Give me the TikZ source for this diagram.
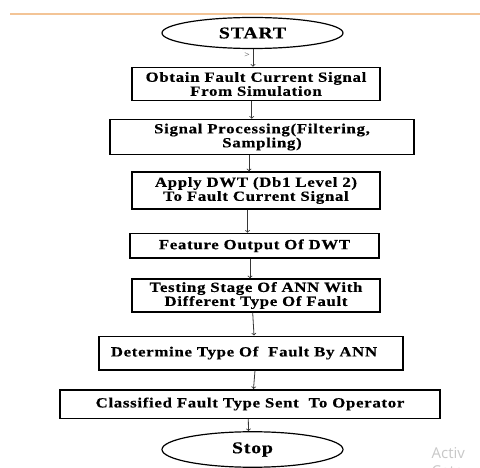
\documentclass[tikz,border=0pt]{standalone}
\usepackage{fontspec}
\setmainfont{Liberation Serif}[LetterSpace=5.0, FakeStretch=1.2,
  BoldFeatures={FakeBold=0.4}]
\newfontfamily\wmfont{Open Sans}
\usepackage{tikz}
\usetikzlibrary{
  shapes.geometric,%
  calc%
}
\definecolor{rulecolor}{RGB}{243,196,150}
\definecolor{linkgray}{RGB}{55,55,55}
\definecolor{wmgray}{RGB}{200,200,200}
\newcommand{\boxfont}{\bfseries\fontsize{14}{14}\selectfont}
\newcommand{\termfont}{\bfseries\fontsize{16.5}{17}\selectfont}
\tikzset{>=to}
\tikzset{
  stepbox/.style={rectangle, draw=black, line width=1.5pt, inner sep=0pt,
    align=center, font=\boxfont},
  terminal/.style={ellipse, draw=black, line width=1.2pt, inner sep=0pt,
    minimum width=181pt, font=\termfont},
  flow/.style={->, draw=linkgray, line width=0.8pt}
}

\begin{document}
\begin{tikzpicture}[x=1pt, y=-1pt]
  \useasboundingbox (0,0) rectangle (480,468); %
  \fill[white] (0,0) rectangle (480,468); %
  \draw[rulecolor, line width=2pt] (10,14) -- (480,14); %
  % terminals and steps
  \node[terminal, minimum height=31pt] (start) at (252.5,33) {START}; %
  \node[stepbox, minimum width=248pt, minimum height=33pt] (obtain) at (256,84)
  {Obtain Fault Current Signal\\From Simulation}; %
  \node[stepbox, minimum width=304pt, minimum height=35pt] (process) at (262,137)
  {Signal Processing(Filtering,\\Sampling)}; %
  \node[stepbox, minimum width=248pt, minimum height=37pt] (dwt) at (256,190.5)
  {Apply DWT (Db1 Level 2)\\To Fault Current Signal}; %
  \node[stepbox, minimum width=249pt, minimum height=24.5pt] (feature) at (254.5,245.75)
  {Feature Output Of DWT}; %
  \node[stepbox, minimum width=248pt, minimum height=33pt] (testing) at (256,295.5)
  {Testing Stage Of ANN With\\Different Type Of Fault}; %
  \node[stepbox, minimum width=304pt, minimum height=33.5pt] (determine) at (251,353)
  {\raisebox{3pt}{Determine Type Of~ Fault By ANN}\hspace*{14pt}}; %
  \node[stepbox, minimum width=380pt, minimum height=28.5pt] (classify) at (250,404)
  {Classified Fault Type Sent~ To Operator}; %
  \node[terminal, minimum height=35.5pt] (stop) at (252.5,449.5) {Stop}; %
  % connectors
  \draw[flow] ([xshift=0.5pt]start.south) -- ([xshift=-3pt]obtain.north); %
  \draw[flow] ([xshift=-4.3pt]obtain.south) -- ([xshift=-10.3pt]process.north); %
  \draw[flow] ([xshift=-13pt]process.south) -- ([xshift=-7pt]dwt.north); %
  \draw[flow] ([xshift=-8.5pt]dwt.south) -- ([xshift=-7pt]feature.north); %
  \draw[flow] ([xshift=-4.5pt]feature.south) -- ([xshift=-6pt]testing.north); %
  \draw[flow] ([xshift=-3.3pt]testing.south) -- ([xshift=3pt]determine.north); %
  \draw[flow] ([xshift=4pt]determine.south) -- ([xshift=3.5pt]classify.north); %
  \draw[flow] ([xshift=-1.7pt]classify.south) -- ([xshift=-4pt]stop.north); %
  \node[text=linkgray, font=\fontsize{8}{8}\selectfont, inner sep=0pt] (stray)
  at (247,55.5) {>}; %
  % watermark at the corner
  \begin{scope}
    \clip (0,0) rectangle (480,468); %
    \node[anchor=base west, inner sep=0pt, text=wmgray,
    font=\wmfont\fontsize{15}{15}\selectfont] (wmtop) at (431.5,458) {Activ}; %
    \node[anchor=base west, inner sep=0pt, text=wmgray,
    font=\wmfont\fontsize{15}{15}\selectfont] (wmlow) at (431.5,476) {Cate}; %
  \end{scope}
\end{tikzpicture}
\end{document}
